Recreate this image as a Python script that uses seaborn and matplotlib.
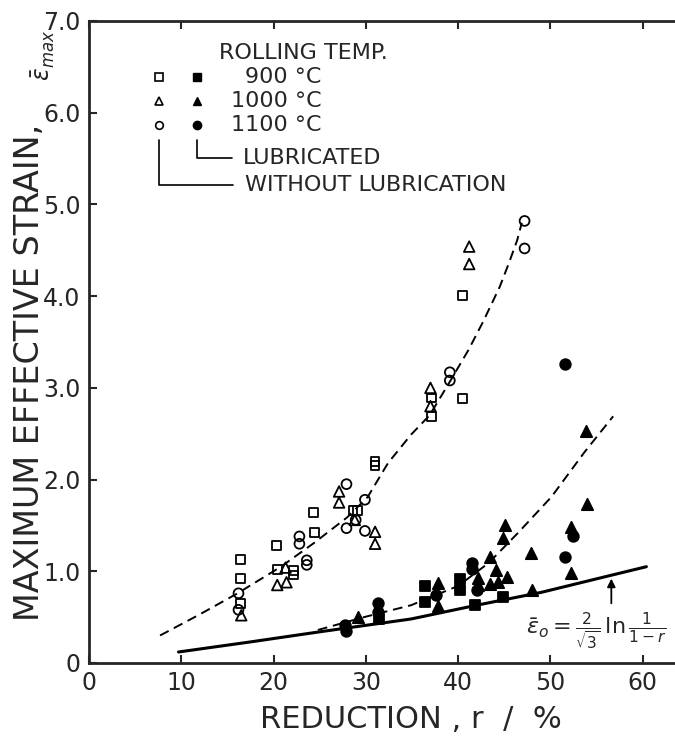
import numpy as np
import pandas as pd
import seaborn as sns
import matplotlib.pyplot as plt
import matplotlib.font_manager as fm

# open markers = without lubrication, filled = lubricated
sq_open_r = [16.4, 16.4, 16.4, 20.3, 20.4, 22.2, 22.2, 24.3, 24.4, 28.6, 29.1, 31.0, 31.0, 37.1, 37.1, 40.5, 40.5]
sq_open_e = [1.13, 0.92, 0.65, 1.28, 1.02, 1.01, 0.96, 1.64, 1.42, 1.66, 1.66, 2.20, 2.15, 2.89, 2.69, 2.88, 4.01]
tri_open_r = [16.5, 20.4, 21.3, 21.4, 27.1, 27.1, 28.8, 31.0, 31.0, 37.0, 37.0, 41.2, 41.2]
tri_open_e = [0.52, 0.85, 1.04, 0.88, 1.87, 1.75, 1.56, 1.43, 1.30, 3.00, 2.80, 4.54, 4.35]
cir_open_r = [16.2, 16.2, 22.8, 22.8, 23.6, 23.6, 27.9, 27.9, 28.9, 29.9, 29.9, 39.1, 39.1, 47.2, 47.2]
cir_open_e = [0.76, 0.58, 1.38, 1.30, 1.12, 1.07, 1.95, 1.47, 1.56, 1.78, 1.44, 3.17, 3.08, 4.82, 4.52]

sq_lub_r = [31.4, 36.4, 36.4, 40.2, 40.2, 41.8, 44.9]
sq_lub_e = [0.48, 0.84, 0.66, 0.92, 0.80, 0.63, 0.72]
tri_lub_r = [29.1, 37.8, 37.8, 42.1, 42.1, 43.4, 43.4, 44.1, 44.3, 45.3, 44.9, 45.1, 47.9, 48.0, 52.2, 52.2, 54.0, 53.9]
tri_lub_e = [0.50, 0.87, 0.62, 0.93, 0.85, 1.16, 0.86, 1.01, 0.88, 0.94, 1.36, 1.50, 1.20, 0.80, 0.98, 1.48, 1.73, 2.53]
cir_lub_r = [27.7, 27.9, 31.3, 31.3, 37.6, 41.5, 41.5, 42.0, 51.6, 51.6, 52.5]
cir_lub_e = [0.41, 0.35, 0.65, 0.56, 0.74, 1.09, 1.03, 0.80, 3.26, 1.16, 1.39]

# fitted dashed curves and the theoretical solid curve
upper_r = [7.7, 12.0, 16.1, 20.8, 24.4, 28.0, 30.2, 32.4, 34.9, 36.9, 39.0, 41.1, 42.7, 44.5, 45.5, 46.4, 46.9]
upper_e = [0.30, 0.53, 0.76, 1.05, 1.31, 1.59, 1.81, 2.18, 2.49, 2.70, 3.05, 3.41, 3.72, 4.10, 4.36, 4.61, 4.80]
lower_r = [24.8, 29.8, 34.9, 40.0, 43.3, 46.5, 50.1, 53.7, 56.8]
lower_e = [0.36, 0.50, 0.63, 0.84, 1.09, 1.42, 1.81, 2.30, 2.69]
theo_r = [9.7, 17.5, 25.0, 34.9, 42.0, 49.0, 55.5, 60.4]
theo_e = [0.12, 0.23, 0.34, 0.48, 0.63, 0.77, 0.93, 1.05]

temps = ['900 °C', '1000 °C', '1100 °C']
x_ticks = [0, 10, 20, 30, 40, 50, 60]
x_ticklabels = ['0', '10', '20', '30', '40', '50', '60']
y_ticks = [0, 1, 2, 3, 4, 5, 6, 7]
y_ticklabels = ['0', '1.0', '2.0', '3.0', '4.0', '5.0', '6.0', '7.0']

groups = [
    ('s', False, sq_open_r, sq_open_e), ('^', False, tri_open_r, tri_open_e), ('o', False, cir_open_r, cir_open_e),
    ('s', True, sq_lub_r, sq_lub_e), ('^', True, tri_lub_r, tri_lub_e), ('o', True, cir_lub_r, cir_lub_e),
]

sns.set_style('ticks')
avail = {f.name for f in fm.fontManager.ttflist}
tick_font = next((f for f in ['Liberation Sans Narrow', 'DejaVu Sans Condensed'] if f in avail), 'DejaVu Sans')
plt.rcParams['font.family'] = ['DejaVu Sans']
plt.rcParams['mathtext.fontset'] = 'dejavusans'

fig = plt.figure(figsize=(6.75, 7.37), dpi=100)
ax = fig.add_axes([89 / 675, 74 / 737, 586 / 675, 642 / 737])

for m, lub, r, e in groups:
    df = pd.DataFrame({'r': r, 'eps': e})
    size = {'s': 40, '^': 58, 'o': 50}[m]
    if lub:
        size += 8
    sns.scatterplot(data=df, x='r', y='eps', marker=m, s=size, color='k',
                    facecolors='k' if lub else 'none', edgecolor='k',
                    linewidth=1.3, legend=False, ax=ax, zorder=3)

sns.lineplot(x=upper_r, y=upper_e, sort=False, estimator=None, color='k', lw=1.4,
             linestyle=(0, (5, 3)), ax=ax)
sns.lineplot(x=lower_r, y=lower_e, sort=False, estimator=None, color='k', lw=1.4,
             linestyle=(0, (5, 3)), ax=ax)
sns.lineplot(x=theo_r, y=theo_e, sort=False, estimator=None, color='k', lw=2.2, ax=ax)

ax.set_xlim(0, 63.5)
ax.set_ylim(0, 7)
ax.set_xticks(x_ticks)
ax.set_xticklabels(x_ticklabels)
ax.set_yticks(y_ticks)
ax.set_yticklabels(y_ticklabels)
ax.set_xlabel('')
ax.set_ylabel('')
ax.tick_params(direction='in', length=6, width=1.5, top=True, right=False, labelsize=17, pad=6)
for lab in ax.get_xticklabels() + ax.get_yticklabels():
    lab.set_family(tick_font)
for side in ['left', 'bottom', 'top']:
    ax.spines[side].set_linewidth(2)
ax.spines['right'].set_visible(False)

# formula and arrow
ax.text(47.4, 0.34, r'$\bar{\varepsilon}_{o} = \frac{2}{\sqrt{3}}\,\ln\frac{1}{1-r}$',
        fontsize=16, va='center', ha='left')
ax.annotate('', xy=(56.6, 0.95), xytext=(56.6, 0.62),
            arrowprops=dict(arrowstyle='-|>', color='k', lw=1.3, mutation_scale=12))

# hand-made legend (axes fraction)
tr = ax.transAxes
ax.text(0.222, 0.950, 'ROLLING TEMP.', transform=tr, fontsize=16, va='center')
row_y = [0.913, 0.876, 0.838]
for (m, _, _, _), y, t in zip(groups[:3], row_y, temps):
    ax.plot([0.119], [y], marker=m, ms=5.5, mfc='none', mec='k', mew=1.2, transform=tr)
    ax.plot([0.184], [y], marker=m, ms=6, mfc='k', mec='k', transform=tr)
    ax.text(0.397, y, t, transform=tr, fontsize=16, va='center', ha='right')
ax.plot([0.184, 0.184, 0.244], [0.815, 0.787, 0.787], color='k', lw=1.2, transform=tr)
ax.plot([0.119, 0.119, 0.246], [0.815, 0.745, 0.745], color='k', lw=1.2, transform=tr)
ax.text(0.262, 0.787, 'LUBRICATED', transform=tr, fontsize=16, va='center')
ax.text(0.266, 0.745, 'WITHOUT LUBRICATION', transform=tr, fontsize=16, va='center')

fig.text(30 / 675, (737 - 372) / 737, 'MAXIMUM EFFECTIVE STRAIN,', rotation=90,
         ha='center', va='center', fontsize=24)
fig.text(43 / 675, (737 - 55) / 737, r'$\bar{\varepsilon}_{max}$', rotation=90,
         ha='center', va='center', fontsize=17)
fig.text(411 / 675, (737 - 720) / 737, 'REDUCTION , r  /  %', ha='center', va='center', fontsize=22)

fig.savefig('out.png', dpi=100)
